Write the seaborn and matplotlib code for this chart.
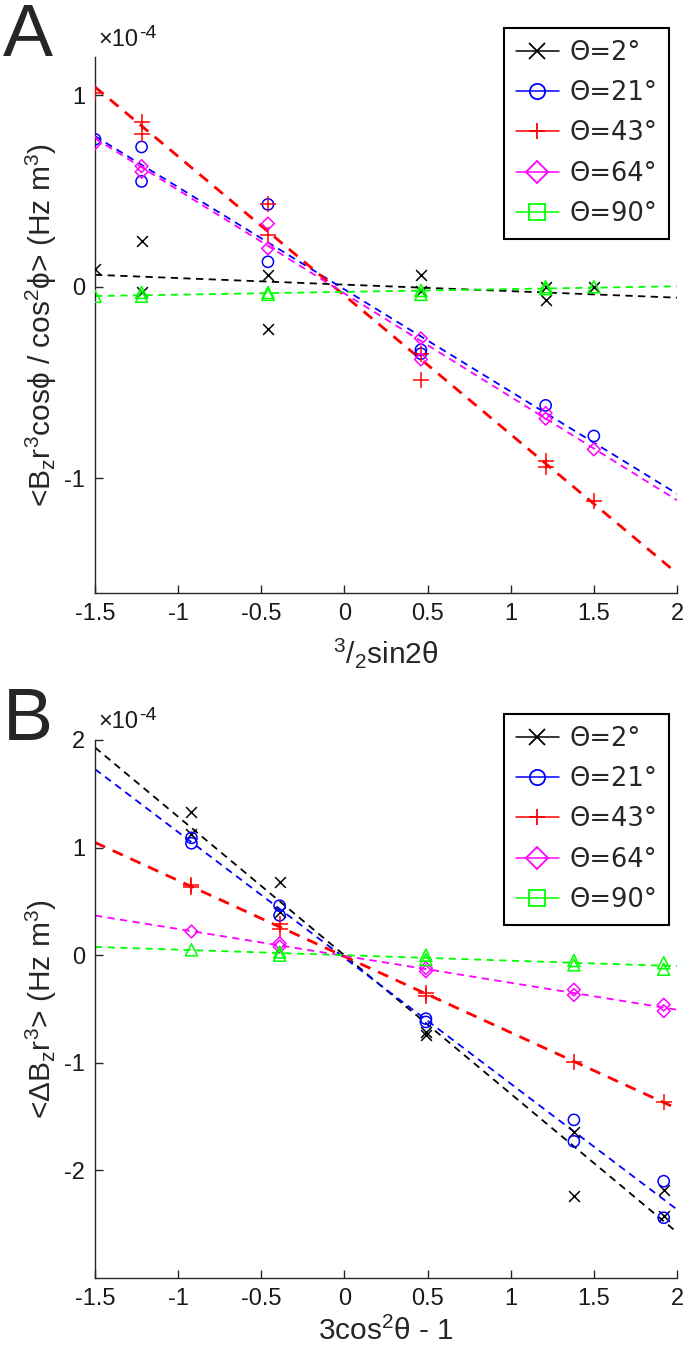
import numpy as np
import pandas as pd
import seaborn as sns
import matplotlib.pyplot as plt
from matplotlib.lines import Line2D
from matplotlib.ticker import FuncFormatter
from matplotlib.transforms import offset_copy

# values are in units of 1e-4 (Hz m^3)
SCALE = 1e-4

labels = ["Θ=2°", "Θ=21°", "Θ=43°", "Θ=64°", "Θ=90°"]
colors = ["#000000", "#0000ff", "#ff0000", "#ff00ff", "#00ff00"]
markers = ["x", "o", "+", "D", "^"]
legend_markers = ["x", "o", "+", "D", "s"]

# panel A : x = 3/2 sin2theta
a_x_2 = [-1.5, -1.22, -1.22, -0.46, -0.46, 0.46, 0.46, 1.21, 1.21, 1.5]
a_y_2 = [0.09, 0.24, -0.03, 0.06, -0.22, 0.06, -0.02, 0.0, -0.07, 0.0]
a_x_21 = [-1.5, -1.22, -1.22, -0.46, -0.46, 0.46, 0.46, 1.21, 1.5]
a_y_21 = [0.77, 0.73, 0.55, 0.43, 0.13, -0.33, -0.35, -0.62, -0.78]
a_x_43 = [-1.5, -1.22, -1.22, -0.46, -0.46, 0.46, 0.46, 1.21, 1.21, 1.5]
a_y_43 = [1.01, 0.86, 0.80, 0.43, 0.27, -0.35, -0.49, -0.91, -0.94, -1.12]
a_x_64 = [-1.5, -1.22, -1.22, -0.46, -0.46, 0.46, 0.46, 1.21, 1.21, 1.5]
a_y_64 = [0.75, 0.63, 0.60, 0.33, 0.20, -0.27, -0.38, -0.66, -0.69, -0.85]
a_x_90 = [-1.5, -1.22, -1.22, -0.46, -0.46, 0.46, 0.46, 1.21, 1.21, 1.5]
a_y_90 = [-0.05, -0.03, -0.05, -0.03, -0.04, -0.02, -0.04, 0.0, -0.01, 0.0]

# panel B : x = 3cos^2theta - 1
b_x_2 = [-0.92, -0.92, -0.39, -0.39, 0.49, 0.49, 1.38, 1.38, 1.92, 1.92]
b_y_2 = [1.33, 1.13, 0.68, 0.40, -0.71, -0.74, -1.64, -2.24, -2.18, -2.42]
b_x_21 = [-0.92, -0.92, -0.39, -0.39, 0.49, 0.49, 1.38, 1.38, 1.92, 1.92]
b_y_21 = [1.09, 1.04, 0.46, 0.37, -0.59, -0.62, -1.53, -1.73, -2.10, -2.44]
b_x_43 = [-0.92, -0.92, -0.39, -0.39, 0.49, 0.49, 1.38, 1.92]
b_y_43 = [0.65, 0.63, 0.29, 0.24, -0.35, -0.38, -0.99, -1.36]
b_x_64 = [-0.92, -0.39, -0.39, 0.49, 0.49, 1.38, 1.38, 1.92, 1.92]
b_y_64 = [0.22, 0.11, 0.08, -0.12, -0.15, -0.32, -0.37, -0.46, -0.52]
b_x_90 = [-0.92, -0.39, -0.39, 0.49, 0.49, 1.38, 1.38, 1.92, 1.92]
b_y_90 = [0.05, 0.03, 0.0, 0.0, -0.04, -0.05, -0.09, -0.07, -0.13]

panel_a = [(a_x_2, a_y_2), (a_x_21, a_y_21), (a_x_43, a_y_43), (a_x_64, a_y_64), (a_x_90, a_y_90)]
panel_b = [(b_x_2, b_y_2), (b_x_21, b_y_21), (b_x_43, b_y_43), (b_x_64, b_y_64), (b_x_90, b_y_90)]

sns.set_theme(style="ticks")
plt.rcParams['font.family'] = ['Liberation Sans', 'DejaVu Sans']
plt.rcParams['mathtext.fontset'] = 'custom'
plt.rcParams['mathtext.rm'] = 'Liberation Sans'
plt.rcParams['mathtext.it'] = 'Liberation Sans:italic'
plt.rcParams['axes.unicode_minus'] = False

fig = plt.figure(figsize=(6.85, 13.51), dpi=100)
axA = fig.add_axes([0.1387, 0.5611, 0.8496, 0.3967])
axB = fig.add_axes([0.1387, 0.0540, 0.8496, 0.3983])

sizes = {"x": 60, "o": 65, "+": 120, "D": 42, "^": 75}


def draw(ax, series, ylim, yticks, anchor_y):
    ax.set_xlim(-1.5, 2)
    ax.set_ylim(ylim[0] * SCALE, ylim[1] * SCALE)
    for (xs, ys), c, m in zip(series, colors, markers):
        df = pd.DataFrame({"x": xs, "y": np.array(ys) * SCALE})
        lw = 2.0 if c == "#ff0000" else 1.3
        sns.regplot(data=df, x="x", y="y", ax=ax, scatter=False, ci=None,
                    truncate=False,
                    line_kws=dict(color=c, lw=lw, ls=(0, (4, 3))))
        if m in ("x", "+"):
            sns.scatterplot(data=df, x="x", y="y", ax=ax, marker=m, s=sizes[m],
                            color=c, edgecolor=c, linewidth=1.1, zorder=3)
        else:
            sns.scatterplot(data=df, x="x", y="y", ax=ax, marker=m, s=sizes[m],
                            facecolor="none", edgecolor=c, linewidth=1.1, zorder=3)
    ax.set_xlim(-1.5, 2)
    ax.set_ylim(ylim[0] * SCALE, ylim[1] * SCALE)
    ax.set_xticks([-1.5, -1, -0.5, 0, 0.5, 1, 1.5, 2])
    ax.set_xticklabels(["-1.5", "-1", "-0.5", "0", "0.5", "1", "1.5", "2"])
    ax.set_yticks(np.array(yticks) * SCALE)
    ax.yaxis.set_major_formatter(FuncFormatter(lambda v, p: "%g" % round(v / SCALE, 6)))

    # exponent label, like matlab's "x10^-4"
    ax.text(0.005, 1.012, "×10", transform=ax.transAxes,
            fontsize=17, ha="left", va="bottom", color="#1a1a1a")
    ax.text(0.005, 1.012, "-4",
            transform=offset_copy(ax.transAxes, fig=fig, x=41, y=9, units="dots"),
            fontsize=14, ha="left", va="bottom", color="#1a1a1a")

    for s in ("top", "right"):
        ax.spines[s].set_visible(False)
    for s in ("left", "bottom"):
        ax.spines[s].set_color("#262626")
        ax.spines[s].set_linewidth(1.0)
    ax.tick_params(direction="in", length=6, width=1, labelsize=17, pad=7,
                   colors="#262626", labelcolor="#1a1a1a")

    handles = [Line2D([], [], color=c, marker=m, ls="-", lw=1.1, markersize=11,
                      markerfacecolor="none", markeredgewidth=1.3)
               for c, m in zip(colors, legend_markers)]
    leg = ax.legend(handles, labels, loc="upper right",
                    bbox_to_anchor=(669 / 685, 1 - anchor_y / 1351),
                    bbox_transform=fig.transFigure, borderaxespad=0,
                    prop={"family": "DejaVu Sans", "size": 18.5},
                    fancybox=False, framealpha=1, edgecolor="black",
                    handlelength=1.7, labelspacing=0.56, borderpad=0.45,
                    handletextpad=0.4)
    leg.get_frame().set_linewidth(1.5)


draw(axA, panel_a, (-1.6, 1.2), [-1, 0, 1], 28)
draw(axB, panel_b, (-3, 2), [-2, -1, 0, 1, 2], 714)

axA.set_xlabel(r"$^\mathregular{3}/_\mathregular{2}$sin2θ", fontsize=21.5, labelpad=8)
axA.set_ylabel(r"<B$_\mathregular{z}$r$^\mathregular{3}$cosϕ / cos$^\mathregular{2}$ϕ> (Hz m$^\mathregular{3}$)",
               fontsize=21.5, labelpad=4)
axB.set_xlabel(r"3cos$^\mathregular{2}$θ - 1", fontsize=21.5, labelpad=5)
axB.set_ylabel(r"<ΔB$_\mathregular{z}$r$^\mathregular{3}$> (Hz m$^\mathregular{3}$)",
               fontsize=21.5, labelpad=4)

fig.text(3 / 685, 1 - 2 / 1351, "A", fontsize=54, ha="left", va="top")
fig.text(3 / 685, 1 - 686 / 1351, "B", fontsize=54, ha="left", va="top")

fig.savefig("out.png", dpi=100)
